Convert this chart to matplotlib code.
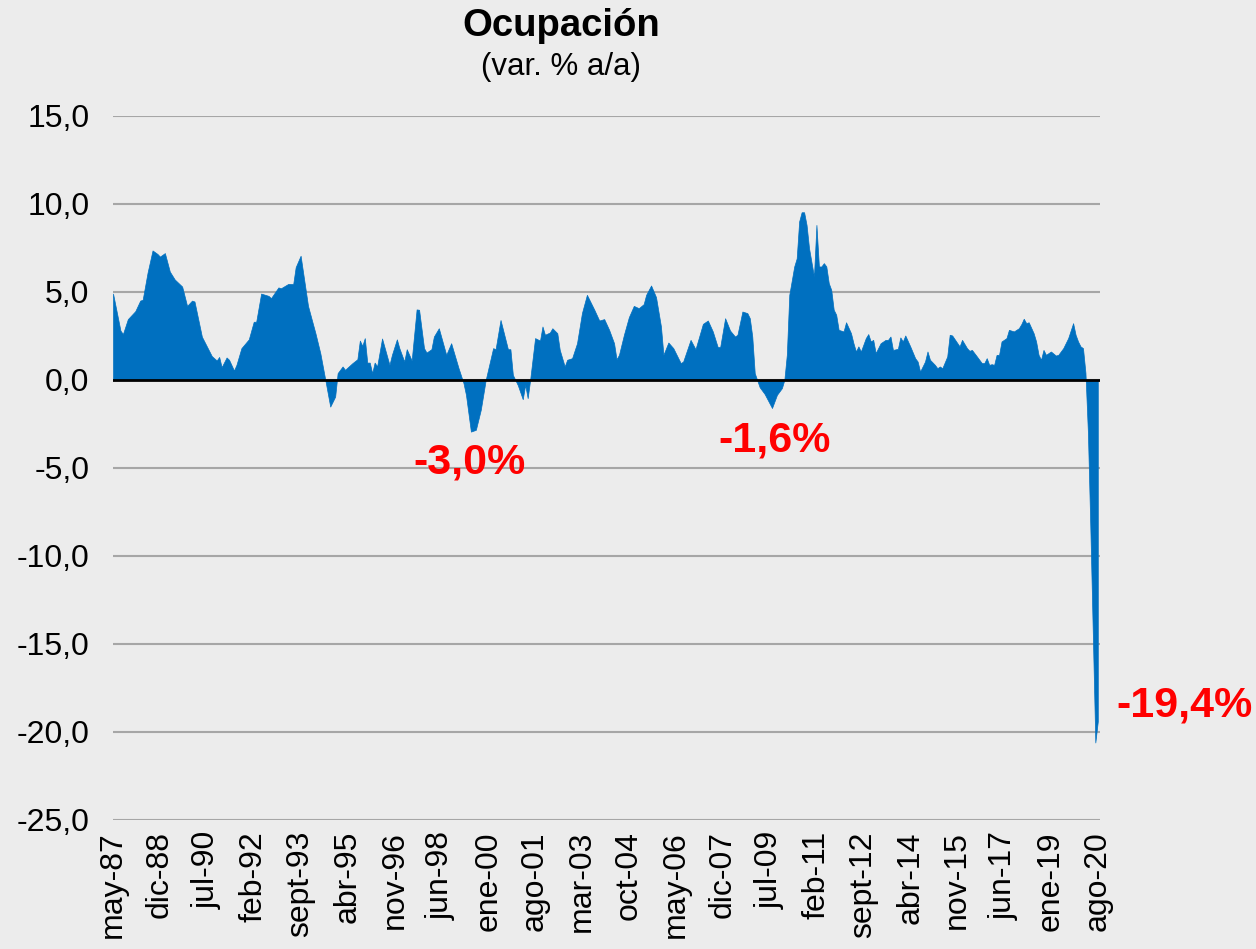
import matplotlib.pyplot as plt

# Ocupación, var. % a/a (mensual, may-87 a ago-20)
# mes = meses transcurridos desde may-87
mes = [0, 3, 4, 6, 9, 11, 12, 14, 16, 18, 19, 21, 23, 25, 28, 30, 32, 33, 36, 40,
       42, 43, 44, 46, 47, 49, 50, 52, 55, 57, 58, 60, 63, 64, 67, 68, 71, 73, 74, 76,
       77, 79, 82, 84, 86, 88, 90, 91, 93, 94, 97, 99, 100, 101, 102, 103, 104, 105, 106, 107,
       109, 112, 113, 115, 116, 118, 119, 121, 123, 124, 126, 127, 129, 130, 132, 135, 137, 140, 142, 143,
       145, 147, 149, 151, 154, 155, 157, 160, 161, 162, 164, 166, 167, 168, 169, 171, 173, 174, 175, 177,
       178, 180, 181, 183, 184, 186, 188, 190, 192, 195, 197, 199, 201, 203, 204, 205, 207, 209, 211, 213,
       215, 216, 218, 220, 222, 223, 225, 227, 230, 231, 234, 236, 239, 241, 243, 245, 246, 248, 250, 252,
       253, 255, 257, 258, 259, 260, 262, 264, 267, 269, 271, 272, 273, 274, 276, 277, 278, 279, 280, 281,
       282, 284, 285, 286, 287, 288, 289, 290, 291, 292, 293, 294, 296, 297, 299, 300, 301, 302, 303, 305,
       306, 307, 308, 309, 311, 313, 314, 315, 316, 318, 319, 320, 321, 323, 325, 326, 327, 329, 330, 331,
       333, 334, 335, 336, 338, 339, 340, 343, 344, 346, 347, 348, 350, 352, 353, 354, 355, 356, 357, 358,
       359, 360, 362, 363, 365, 367, 368, 369, 370, 371, 373, 374, 375, 376, 377, 378, 380, 382, 383, 385,
       387, 389, 390, 391, 392, 393, 394, 395, 396, 397, 398, 399]
ocupacion = [4.9, 2.8, 2.6, 3.45, 3.9, 4.5, 4.55, 6.1, 7.35, 7.15, 7.0, 7.2, 6.15, 5.7, 5.3, 4.2, 4.5, 4.45, 2.45, 1.35,
             1.1, 1.3, 0.72, 1.27, 1.14, 0.53, 0.85, 1.8, 2.3, 3.3, 3.3, 4.9, 4.77, 4.64, 5.25, 5.2, 5.45, 5.44, 6.4, 7.05,
             6.1, 4.2, 2.65, 1.5, 0.0, -1.52, -0.95, 0.38, 0.76, 0.57, 0.95, 1.17, 2.23, 1.93, 2.37, 0.98, 0.98, 0.38, 0.98, 0.76,
             2.35, 0.85, 1.42, 2.3, 1.8, 1.04, 1.74, 1.1, 4.0, 3.98, 1.8, 1.55, 1.74, 2.46, 2.93, 1.42, 2.08, 0.66, -0.19, -0.85,
             -2.94, -2.84, -1.7, 0.0, 1.8, 1.74, 3.4, 1.74, 1.74, 0.28, -0.3, -1.1, -0.28, -1.04, 0.0, 2.37, 2.23, 3.03, 2.56, 2.69,
             2.93, 2.65, 1.7, 0.76, 1.14, 1.23, 2.08, 3.8, 4.83, 3.98, 3.37, 3.45, 2.84, 2.08, 1.17, 1.42, 2.56, 3.56, 4.2, 4.07,
             4.3, 4.83, 5.36, 4.7, 3.03, 1.42, 2.12, 1.8, 0.95, 1.04, 2.27, 1.74, 3.18, 3.37, 2.75, 1.86, 1.86, 3.5, 2.8, 2.46,
             2.56, 3.88, 3.79, 3.5, 2.46, 0.38, -0.42, -0.8, -1.6, -0.85, -0.47, 0.0, 1.42, 4.83, 6.44, 6.9, 9.0, 9.52, 9.52, 8.8,
             7.48, 5.87, 8.8, 6.44, 6.44, 6.63, 6.44, 5.49, 5.11, 3.98, 3.7, 2.84, 2.75, 3.27, 2.65, 2.08, 1.61, 1.9, 1.61, 2.37,
             2.6, 2.18, 2.27, 1.52, 2.08, 2.27, 2.27, 2.46, 1.7, 1.76, 2.41, 2.18, 2.52, 1.9, 1.23, 1.04, 0.47, 1.04, 1.61, 1.14,
             0.85, 0.66, 0.76, 0.66, 1.33, 2.56, 2.52, 1.9, 2.27, 1.8, 1.65, 1.7, 1.33, 0.95, 0.95, 1.23, 0.85, 0.89, 0.85, 1.42,
             1.42, 2.18, 2.37, 2.84, 2.75, 2.93, 3.16, 3.47, 3.22, 3.27, 2.65, 2.18, 1.42, 1.14, 1.7, 1.42, 1.61, 1.38, 1.42, 1.8,
             2.37, 3.22, 2.56, 2.18, 1.9, 1.8, 0.4, -3.0, -8.5, -14.5, -20.6, -19.4]

# etiquetas del eje x (cada 19 meses)
tick_mes = list(range(0, 400, 19))
tick_labels = ["may-87", "dic-88", "jul-90", "feb-92", "sept-93", "abr-95", "nov-96",
               "jun-98", "ene-00", "ago-01", "mar-03", "oct-04", "may-06", "dic-07",
               "jul-09", "feb-11", "sept-12", "abr-14", "nov-15", "jun-17", "ene-19", "ago-20"]

# anotaciones en rojo
notas_txt = ["-3,0%", "-1,6%", "-19,4%"]
notas_pos = [(144.6, -4.7), (268.2, -3.45), (434.0, -18.5)]

plt.rcParams['font.family'] = ['Liberation Sans', 'DejaVu Sans']

fig = plt.figure(figsize=(12.56, 9.49), dpi=100, facecolor="#ECECEC")
ax = fig.add_axes([0.09, 0.136, 0.786, 0.742])
ax.set_facecolor("none")

ax.fill_between(mes, ocupacion, 0, color="#0070C0", linewidth=0.5, edgecolor="#0070C0")
ax.axhline(0, color="black", linewidth=2, zorder=3)

ax.set_ylim(-25, 15)
ax.set_xlim(0, 400)
ax.set_yticks(range(-25, 16, 5))
ax.set_yticklabels([f"{v:.1f}".replace(".", ",") for v in range(-25, 16, 5)], fontsize=23)
ax.yaxis.grid(True, color="#A6A6A6", linewidth=1.5)
ax.set_axisbelow(True)
ax.set_xticks(tick_mes)
ax.set_xticklabels(tick_labels, rotation=90, fontsize=23)
ax.tick_params(axis="y", length=0, pad=17)
ax.tick_params(axis="x", length=0, pad=8)
for s in ax.spines.values():
    s.set_visible(False)

for t, (x, y) in zip(notas_txt, notas_pos):
    ax.text(x, y, t, color="#FF0000", fontsize=31, fontweight="bold",
            ha="center", va="center", clip_on=False)

fig.text(0.447, 0.973, "Ocupación", fontsize=27.5, fontweight="bold", ha="center", va="center")
fig.text(0.447, 0.929, "(var. % a/a)", fontsize=22.5, ha="center", va="center")

fig.savefig("out.png", dpi=100, facecolor=fig.get_facecolor())
